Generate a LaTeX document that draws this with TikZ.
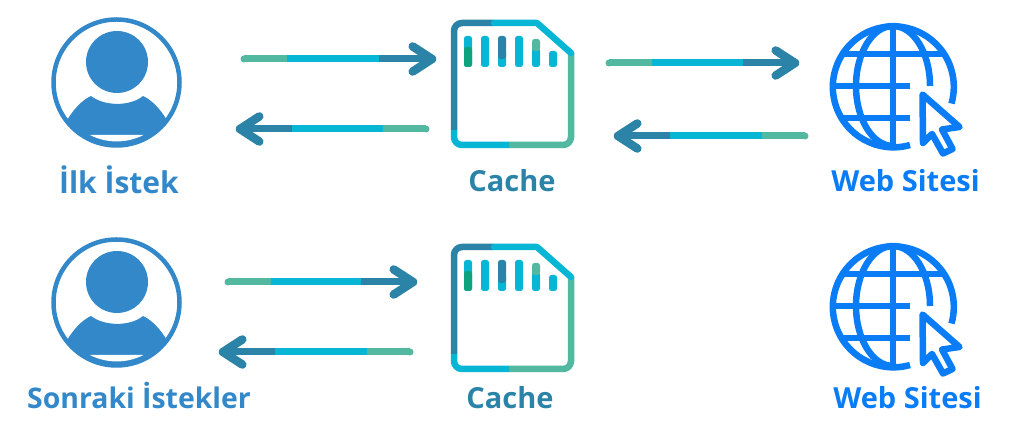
\documentclass[tikz,border=0pt]{standalone}
\usepackage{fontspec}
\usepackage{xcolor}
\usetikzlibrary{calc}
\setmainfont{Open Sans}

\definecolor{flowgreen}{HTML}{52B9A0}
\definecolor{flowcyan}{HTML}{06B6D4}
\definecolor{flowblue}{HTML}{2B83A8}
\definecolor{bargreen}{HTML}{0FA27F}
\definecolor{usercolor}{HTML}{3288C8}
\definecolor{webcolor}{HTML}{0A7CF5}

\tikzset{
  flowline/.style={line width=7pt},
  flowhead/.style={line width=8.5pt, color=flowblue, line cap=round, line join=round},
  iconlabel/.style={font=\bfseries\fontsize{29}{32}\selectfont, inner sep=0pt, anchor=center},
  usericon/.pic={
    \draw[usercolor, line width=4.5pt] (0,0) circle (63);
    \fill[usercolor] (0.5,20.5) circle (31);
    \begin{scope}
      \clip (0,0) circle (63);
      \fill[usercolor] (-49,-37) .. controls (-43,-27) and (-35,-18) .. (-25.5,-13.5)
        .. controls (-12,-24) and (14,-24) .. (26.5,-13.5)
        .. controls (36,-18) and (44,-27) .. (50,-37) -- (60,-70) -- (-60,-70) -- cycle;
    \end{scope}
    \fill[white] (27,-52.5) arc (-63:-117:59) -- cycle;
  },
  cachebar/.style={rounded corners=2.5pt},
  cacheedge/.style={line width=6.5pt},
  cacheicon/.pic={
    \draw[cacheedge, flowblue, rounded corners=8] (0,-107) -- (0,0) -- (40,0);
    \draw[cacheedge, flowgreen, rounded corners=8] (55,-122) -- (117,-122) -- (117,-30);
    \draw[cacheedge, flowcyan, line join=round, line cap=round] (40,0) -- (83,0) -- (117,-30);
    \draw[cacheedge, flowcyan, rounded corners=8] (0,-107) -- (0,-122) -- (55,-122);
    \fill[cachebar, flowcyan] (10,-13) rectangle (18,-44);
    \fill[cachebar, bargreen] (10,-24) rectangle (18,-44);
    \fill[cachebar, flowcyan] (27,-13) rectangle (35,-44);
    \fill[cachebar, flowcyan] (44,-28) rectangle (52,-44);
    \fill[cachebar, flowblue] (44,-13) rectangle (52,-36);
    \fill[cachebar, flowcyan] (61,-13) rectangle (69,-44);
    \fill[cachebar, flowcyan] (78,-25) rectangle (86,-44);
    \fill[cachebar, flowgreen] (78,-16) rectangle (86,-28);
    \fill[cachebar, flowcyan] (95,-28) rectangle (103,-44);
  },
  globeicon/.pic={
    \begin{scope}[webcolor, line width=6.5pt]
      \draw (17,-59) arc (-74:-376:60.5);
      \draw (0,60) -- (0,-60);
      \draw (0,60) arc (90:270:37 and 60);
      \draw (0,60) arc (90:0:37 and 60);
      \draw (-51,32) -- (51,32);
      \draw (-60,0) -- (17,0);
      \draw (-51,-32) -- (17,-32);
      \draw[line join=round] (29.5,-8.5) -- (66.5,-41) -- (49,-43.5) -- (59.5,-63) -- (50,-67.5) -- (39,-48) -- (30,-57) -- cycle;
    \end{scope}
  }
}

\newcommand{\flowarrow}[2]{
  \draw[flowline, flowgreen] (#1) -- ($(#1)!.23!(#2)$);
  \draw[flowline, flowcyan] ($(#1)!.23!(#2)$) -- ($(#1)!.72!(#2)$);
  \draw[flowline, flowblue] ($(#1)!.72!(#2)$) -- (#2);
  \fill[flowgreen] (#1) circle (3.5pt);
  \draw[flowhead] ($(#2)!23pt!-33:(#1)$) -- (#2) -- ($(#2)!23pt!33:(#1)$);
}

\begin{document}
\begin{tikzpicture}[x=1pt, y=1pt]
  \useasboundingbox (0,0) rectangle (1024,427);

  % icons
  \pic (userA) at (116.5,344.5) {usericon};
  \pic (userB) at (116.5,124.5) {usericon};
  \pic (cacheA) at (454,404) {cacheicon};
  \pic (cacheB) at (454,180) {cacheicon};
  \pic (globeA) at (893,341) {globeicon};
  \pic (globeB) at (893,121) {globeicon};

  % labels
  \node[iconlabel, text=usercolor, font=\bfseries\fontsize{30}{32}\selectfont] (labelA) at (119,247.5) {İlk İstek};
  \node[iconlabel, text=flowblue] (labelB) at (512,246) {Cache};
  \node[iconlabel, text=webcolor] (labelC) at (905.5,246) {Web Sitesi};
  \node[iconlabel, text=usercolor, font=\bfseries\fontsize{28.4}{32}\selectfont] (labelD) at (139,31) {Sonraki İstekler};
  \node[iconlabel, text=flowblue] (labelE) at (510,29) {Cache};
  \node[iconlabel, text=webcolor] (labelF) at (907.5,29) {Web Sitesi};

  % arrow ends
  \coordinate (a1) at (244,368);
  \coordinate (b1) at (432,368);
  \coordinate (a2) at (426,298);
  \coordinate (b2) at (240,298);
  \coordinate (a3) at (609,364);
  \coordinate (b3) at (795,364);
  \coordinate (a4) at (805,291);
  \coordinate (b4) at (618,291);
  \coordinate (a5) at (228,145);
  \coordinate (b5) at (413,145);
  \coordinate (a6) at (410,75);
  \coordinate (b6) at (223,75);

  \flowarrow{a1}{b1}
  \flowarrow{a2}{b2}
  \flowarrow{a3}{b3}
  \flowarrow{a4}{b4}
  \flowarrow{a5}{b5}
  \flowarrow{a6}{b6}
\end{tikzpicture}
\end{document}
